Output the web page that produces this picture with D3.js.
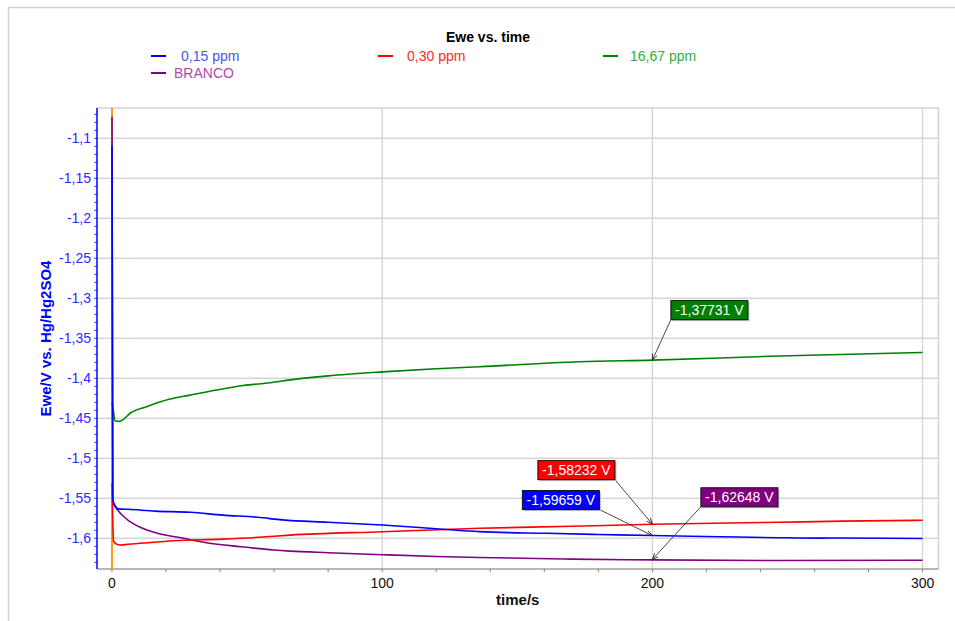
<!DOCTYPE html>
<html><head><meta charset="utf-8">
<script src="https://cdn.jsdelivr.net/npm/d3@7"></script>
<style>body{margin:0;background:#fff} svg{display:block} text{font-family:"Liberation Sans",Arial,sans-serif}</style>
</head><body><svg id="c" width="955" height="621"></svg>
<script>
// ---------- data ----------
const chartTitle = "Ewe vs. time";
const xLabel = "time/s";
const yLabel = "Ewe/V vs. Hg/Hg2SO4";
const seriesNames = ["0,15 ppm", "0,30 ppm", "16,67 ppm", "BRANCO"];
const seriesColors = ["#0000ff", "#ff0000", "#008000", "#800080"];
const legendTextColors = ["#4b56e8", "#ff2a2a", "#30b030", "#b04aa8"];

const time015 = [0, 0.3, 1.4, 2.3, 6, 16, 29, 41, 54, 63, 80, 100, 120, 136, 161, 180, 200, 225, 247, 262, 270, 300];
const ewe015  = [-1.1092, -1.552, -1.5605, -1.5632, -1.5638, -1.566, -1.5675, -1.571, -1.5738, -1.577, -1.580, -1.5834, -1.588, -1.5917, -1.5938, -1.5952, -1.5966, -1.598, -1.5993, -1.5998, -1.5996, -1.6003];

const time030 = [0, 0.6, 1.5, 3, 6, 10.4, 22.7, 41, 54, 66, 100, 136, 170, 200, 247, 270, 300];
const ewe030  = [-1.531, -1.604, -1.607, -1.6084, -1.6075, -1.6063, -1.603, -1.601, -1.5988, -1.596, -1.5918, -1.5875, -1.585, -1.5825, -1.580, -1.5785, -1.5775];

const time1667 = [0, 0.5, 1.1, 2.7, 4, 6.7, 12.8, 21.5, 28.9, 38.8, 48.6, 58.5, 66, 80, 100, 120, 136, 173, 200, 247, 300];
const ewe1667  = [-1.4305, -1.44, -1.453, -1.4538, -1.452, -1.4437, -1.4355, -1.426, -1.421, -1.4146, -1.409, -1.4055, -1.402, -1.397, -1.392, -1.388, -1.3855, -1.3793, -1.3773, -1.3721, -1.3677];

const timeBranco = [0, 0.3, 1, 2.3, 4.2, 6, 8, 10.4, 16.5, 26.4, 35, 47.4, 59.7, 66, 80, 100, 120, 136, 170, 200, 247, 300];
const eweBranco  = [-1.073, -1.554, -1.5595, -1.5655, -1.5725, -1.5775, -1.582, -1.5862, -1.5935, -1.600, -1.6055, -1.6105, -1.6146, -1.616, -1.618, -1.6205, -1.6228, -1.6241, -1.626, -1.627, -1.6278, -1.6275];

const cursorTime = 0;            // orange vertical marker
const annotationTime = 200;
const annotationValues = [-1.59659, -1.58232, -1.37731, -1.62648];
const annotationLabels = ["-1,59659 V", "-1,58232 V", "-1,37731 V", "-1,62648 V"];

const xMajorTicks = [0, 100, 200, 300];
const xMinorTicks = [0, 20, 40, 60, 80, 100, 120, 140, 160, 180, 200, 220, 240, 260, 280, 300];
const yMajorTicks = [-1.1, -1.15, -1.2, -1.25, -1.3, -1.35, -1.4, -1.45, -1.5, -1.55, -1.6];

// ---------- layout ----------
const svg = d3.select("#c");
const L = 97, R = 938.5, T = 108, B = 569;
const x = d3.scaleLinear().domain([-5.55, 305.9]).range([L, R]);
const y = d3.scaleLinear().domain([-1.0621, -1.6384]).range([T, B]);
const fmt = v => String(+v.toFixed(2)).replace(".", ",");

// outer frame
svg.append("path").attr("d", "M8.5,1000 V7.5 H1000").attr("fill", "none")
  .attr("stroke", "#d2d2d2").attr("stroke-width", 1.5);

// title
svg.append("text").attr("x", 488).attr("y", 42).attr("text-anchor", "middle")
  .attr("font-size", 14).attr("font-weight", "bold").attr("fill", "#000").text(chartTitle);

// legend
const legendPos = [[151, 56], [378, 56], [603, 56], [151, 73]];
const legendTextX = [181, 407, 630, 174];
seriesNames.forEach((n, i) => {
  const [lx, ly] = legendPos[i];
  svg.append("line").attr("x1", lx).attr("x2", lx + 15).attr("y1", ly).attr("y2", ly)
    .attr("stroke", seriesColors[i]).attr("stroke-width", 2);
  svg.append("text").attr("x", legendTextX[i]).attr("y", ly + 5).attr("font-size", 14)
    .attr("fill", legendTextColors[i]).text(n);
});

// grid
const grid = svg.append("g");
grid.selectAll("line.h").data(yMajorTicks).join("line")
  .attr("x1", L).attr("x2", R).attr("y1", d => y(d)).attr("y2", d => y(d))
  .attr("stroke", "#d6d6d6").attr("stroke-width", 1.4);
grid.selectAll("line.v").data(xMajorTicks.filter(d => d > 0)).join("line")
  .attr("y1", T).attr("y2", B).attr("x1", d => x(d)).attr("x2", d => x(d))
  .attr("stroke", "#d6d6d6").attr("stroke-width", 1.4);
// plot border top/right
svg.append("path").attr("d", `M${L},${T} H${R} V${B}`).attr("fill", "none")
  .attr("stroke", "#d4d4d4").attr("stroke-width", 1.6);

// x axis
const xAxisG = svg.append("g");
xAxisG.append("line").attr("x1", L).attr("x2", R).attr("y1", B).attr("y2", B)
  .attr("stroke", "#a0a0a0").attr("stroke-width", 1.5);
xAxisG.selectAll("line.t").data(xMinorTicks).join("line")
  .attr("x1", d => x(d)).attr("x2", d => x(d)).attr("y1", B).attr("y2", B + 3)
  .attr("stroke", "#808080").attr("stroke-width", 1);
xAxisG.selectAll("text").data(xMajorTicks).join("text")
  .attr("x", d => x(d)).attr("y", B + 19).attr("text-anchor", "middle")
  .attr("font-size", 14).attr("fill", "#111").text(d => d);
svg.append("text").attr("x", (L + R) / 2).attr("y", B + 36).attr("text-anchor", "middle")
  .attr("font-size", 15).attr("font-weight", "bold").attr("fill", "#111").text(xLabel);

// y axis
const yAxisG = svg.append("g");
const yMinor = d3.range(-1.07, -1.6384, -0.01).map(v => +v.toFixed(2));
yAxisG.selectAll("line.t").data(yMinor).join("line")
  .attr("x1", L - 3).attr("x2", L).attr("y1", d => y(d)).attr("y2", d => y(d))
  .attr("stroke", "#3050ff").attr("stroke-width", 1);
yAxisG.append("line").attr("x1", L).attr("x2", L).attr("y1", T).attr("y2", B)
  .attr("stroke", "#0000ff").attr("stroke-width", 1.5);
yAxisG.selectAll("text").data(yMajorTicks).join("text")
  .attr("x", L - 6).attr("y", d => y(d) + 5).attr("text-anchor", "end")
  .attr("font-size", 14).attr("fill", "#2b2bff").text(d => fmt(d));
svg.append("text").attr("transform", `translate(51,${(T + B) / 2}) rotate(-90)`)
  .attr("text-anchor", "middle").attr("font-size", 15).attr("font-weight", "bold")
  .attr("fill", "#0000ff").text(yLabel);

// series
const plot = svg.append("g");
plot.append("line").attr("x1", x(cursorTime)).attr("x2", x(cursorTime)).attr("y1", T).attr("y2", B)
  .attr("stroke", "#ff9a1a").attr("stroke-width", 2);
const line = d3.line().x(d => x(d[0])).y(d => y(d[1])).curve(d3.curveMonotoneX);
const seriesData = [
  d3.zip(time015, ewe015), d3.zip(time030, ewe030), d3.zip(time1667, ewe1667), d3.zip(timeBranco, eweBranco)
];
[2, 3, 1, 0].forEach(i => {
  plot.append("path").datum(seriesData[i]).attr("d", line).attr("fill", "none")
    .attr("stroke", seriesColors[i]).attr("stroke-width", 1.6).attr("stroke-linejoin", "round");
});

// annotations
svg.append("defs").append("marker").attr("id", "ah").attr("viewBox", "0 0 10 10")
  .attr("refX", 10).attr("refY", 5).attr("markerWidth", 7).attr("markerHeight", 7)
  .attr("orient", "auto").append("path").attr("d", "M0,1 L10,5 L0,9").attr("fill", "none")
  .attr("stroke", "#222").attr("stroke-width", 1.3);
// box offsets (left, top) from the data point, and which box corner the arrow starts from
const annotationBoxOffset = [[-130, -45], [-114.5, -63.5], [18.5, -59.5], [48.5, -71.7]];
const annotationArrowFrom = ["br", "br", "bl", "bl"];
const boxW = 77, boxH = 19;
annotationValues.forEach((v, i) => {
  const px = x(annotationTime), py = y(v);
  const bx = px + annotationBoxOffset[i][0], by = py + annotationBoxOffset[i][1];
  const sx = annotationArrowFrom[i] === "br" ? bx + boxW : bx, sy = by + boxH;
  svg.append("line").attr("x1", sx).attr("y1", sy).attr("x2", px).attr("y2", py)
    .attr("stroke", "#333").attr("stroke-width", 0.9).attr("marker-end", "url(#ah)");
  svg.append("rect").attr("x", bx + 1.5).attr("y", by + 1.5).attr("width", boxW).attr("height", boxH)
    .attr("fill", "#bdbdbd");
  svg.append("rect").attr("x", bx).attr("y", by).attr("width", boxW).attr("height", boxH)
    .attr("fill", seriesColors[i]).attr("stroke", "#111").attr("stroke-width", 1);
  svg.append("text").attr("x", bx + boxW / 2).attr("y", by + 14.5).attr("text-anchor", "middle")
    .attr("font-size", 14).attr("fill", "#fff").text(annotationLabels[i]);
});
</script></body></html>
